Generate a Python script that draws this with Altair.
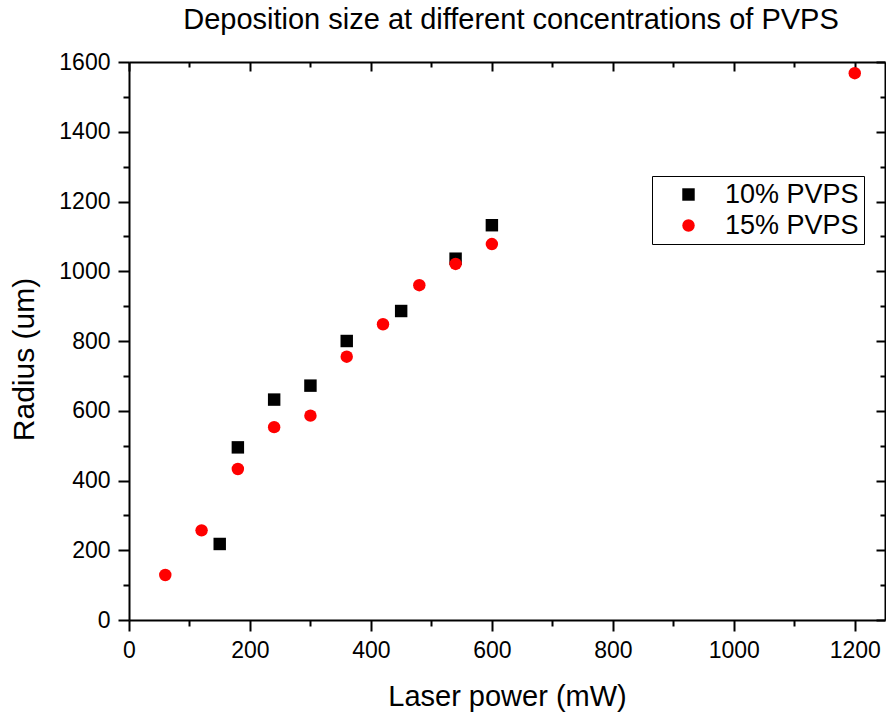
import altair as alt
import pandas as pd

series = ["10% PVPS", "15% PVPS"]
power_10 = [150, 180, 240, 300, 360, 450, 540, 600]
radius_10 = [218, 495, 632, 672, 800, 886, 1036, 1132]
power_15 = [60, 120, 180, 240, 300, 360, 420, 480, 540, 600, 1200]
radius_15 = [129, 257, 433, 553, 586, 755, 848, 960, 1021, 1078, 1568]

x_ticks = list(range(0, 1201, 100))
y_ticks = list(range(0, 1601, 100))

df = pd.DataFrame(
    {
        "power": power_10 + power_15,
        "radius": radius_10 + radius_15,
        "series": [series[0]] * len(power_10) + [series[1]] * len(power_15),
    }
)

FONT = "Liberation Sans"
major_out = {"expr": "datum.value % 200 === 0 ? 11 : 6"}
major_in = {"expr": "datum.value % 200 === 0 ? -9 : -5"}
label_expr = "datum.value % 200 === 0 ? datum.label : ''"

x_scale = alt.Scale(domain=[0, 1250], nice=False, zero=False)
y_scale = alt.Scale(domain=[0, 1600], nice=False, zero=False)

points = (
    alt.Chart(df)
    .mark_point(filled=True, size=155, opacity=1)
    .encode(
        x=alt.X(
            "power:Q",
            scale=x_scale,
            axis=alt.Axis(
                orient="bottom",
                title="Laser power (mW)",
                titleFontSize=29,
                titleFontWeight="normal",
                titleY=85,
                titleBaseline="alphabetic",
                values=x_ticks,
                format="d",
                labelExpr=label_expr,
                labelOverlap=False,
                labelFlush=False,
                labelFontSize=23,
                labelPadding=8,
                tickSize=major_out,
                tickWidth=2,
                domainWidth=2,
                grid=False,
            ),
        ),
        y=alt.Y(
            "radius:Q",
            scale=y_scale,
            axis=alt.Axis(
                orient="left",
                title="Radius (um)",
                titleFontSize=30,
                titleFontWeight="normal",
                titleX=-96,
                titleY=297,
                titleAngle=270,
                titleAlign="center",
                titleBaseline="alphabetic",
                values=y_ticks,
                format="d",
                labelExpr=label_expr,
                labelOverlap=False,
                labelFlush=False,
                labelFontSize=23,
                labelPadding=8,
                tickSize=major_out,
                tickWidth=2,
                domainWidth=2,
                grid=False,
            ),
        ),
        color=alt.Color(
            "series:N",
            scale=alt.Scale(domain=series, range=["#000000", "#FF0000"]),
            legend=alt.Legend(
                title=None,
                orient="none",
                legendX=523,
                legendY=114,
                strokeColor="black",
                fillColor="white",
                padding=5,
                labelFontSize=27,
                labelOffset=23,
                symbolOffset=18,
                symbolSize=155,
                rowPadding=3,
                labelFont=FONT,
            ),
        ),
        shape=alt.Shape(
            "series:N",
            scale=alt.Scale(domain=series, range=["square", "circle"]),
            legend=None,
        ),
    )
)

frame = (
    alt.Chart(df)
    .mark_point(opacity=0)
    .encode(
        x=alt.X(
            "power:Q",
            scale=x_scale,
            axis=alt.Axis(
                orient="top",
                title=None,
                values=x_ticks,
                labels=False,
                tickSize=major_in,
                tickWidth=2,
                domainWidth=2,
                grid=False,
            ),
        ),
        y=alt.Y(
            "radius:Q",
            scale=y_scale,
            axis=alt.Axis(
                orient="right",
                title=None,
                values=y_ticks,
                labels=False,
                tickSize=major_in,
                tickWidth=2,
                domainWidth=2,
                grid=False,
            ),
        ),
    )
)

chart = (
    alt.layer(points, frame)
    .resolve_axis(x="independent", y="independent")
    .properties(
        width=756,
        height=558,
        autosize=alt.AutoSizeParams(type="none"),
        padding={"left": 129, "top": 62, "right": 1, "bottom": 93},
        title=alt.Title(
            "Deposition size at different concentrations of PVPS",
            fontSize=29,
            fontWeight="normal",
            anchor="middle",
            frame="group",
            offset=16,
            dx=4,
            font=FONT,
            color="black",
        ),
    )
    .configure(font=FONT)
    .configure_axis(
        domainColor="black",
        tickColor="black",
        labelColor="black",
        titleColor="black",
        labelFont=FONT,
        titleFont=FONT,
    )
    .configure_legend(labelColor="black", strokeWidth=1)
    .configure_view(stroke=None)
)

chart.save("out.html", embed_options={"renderer": "svg", "actions": False})
